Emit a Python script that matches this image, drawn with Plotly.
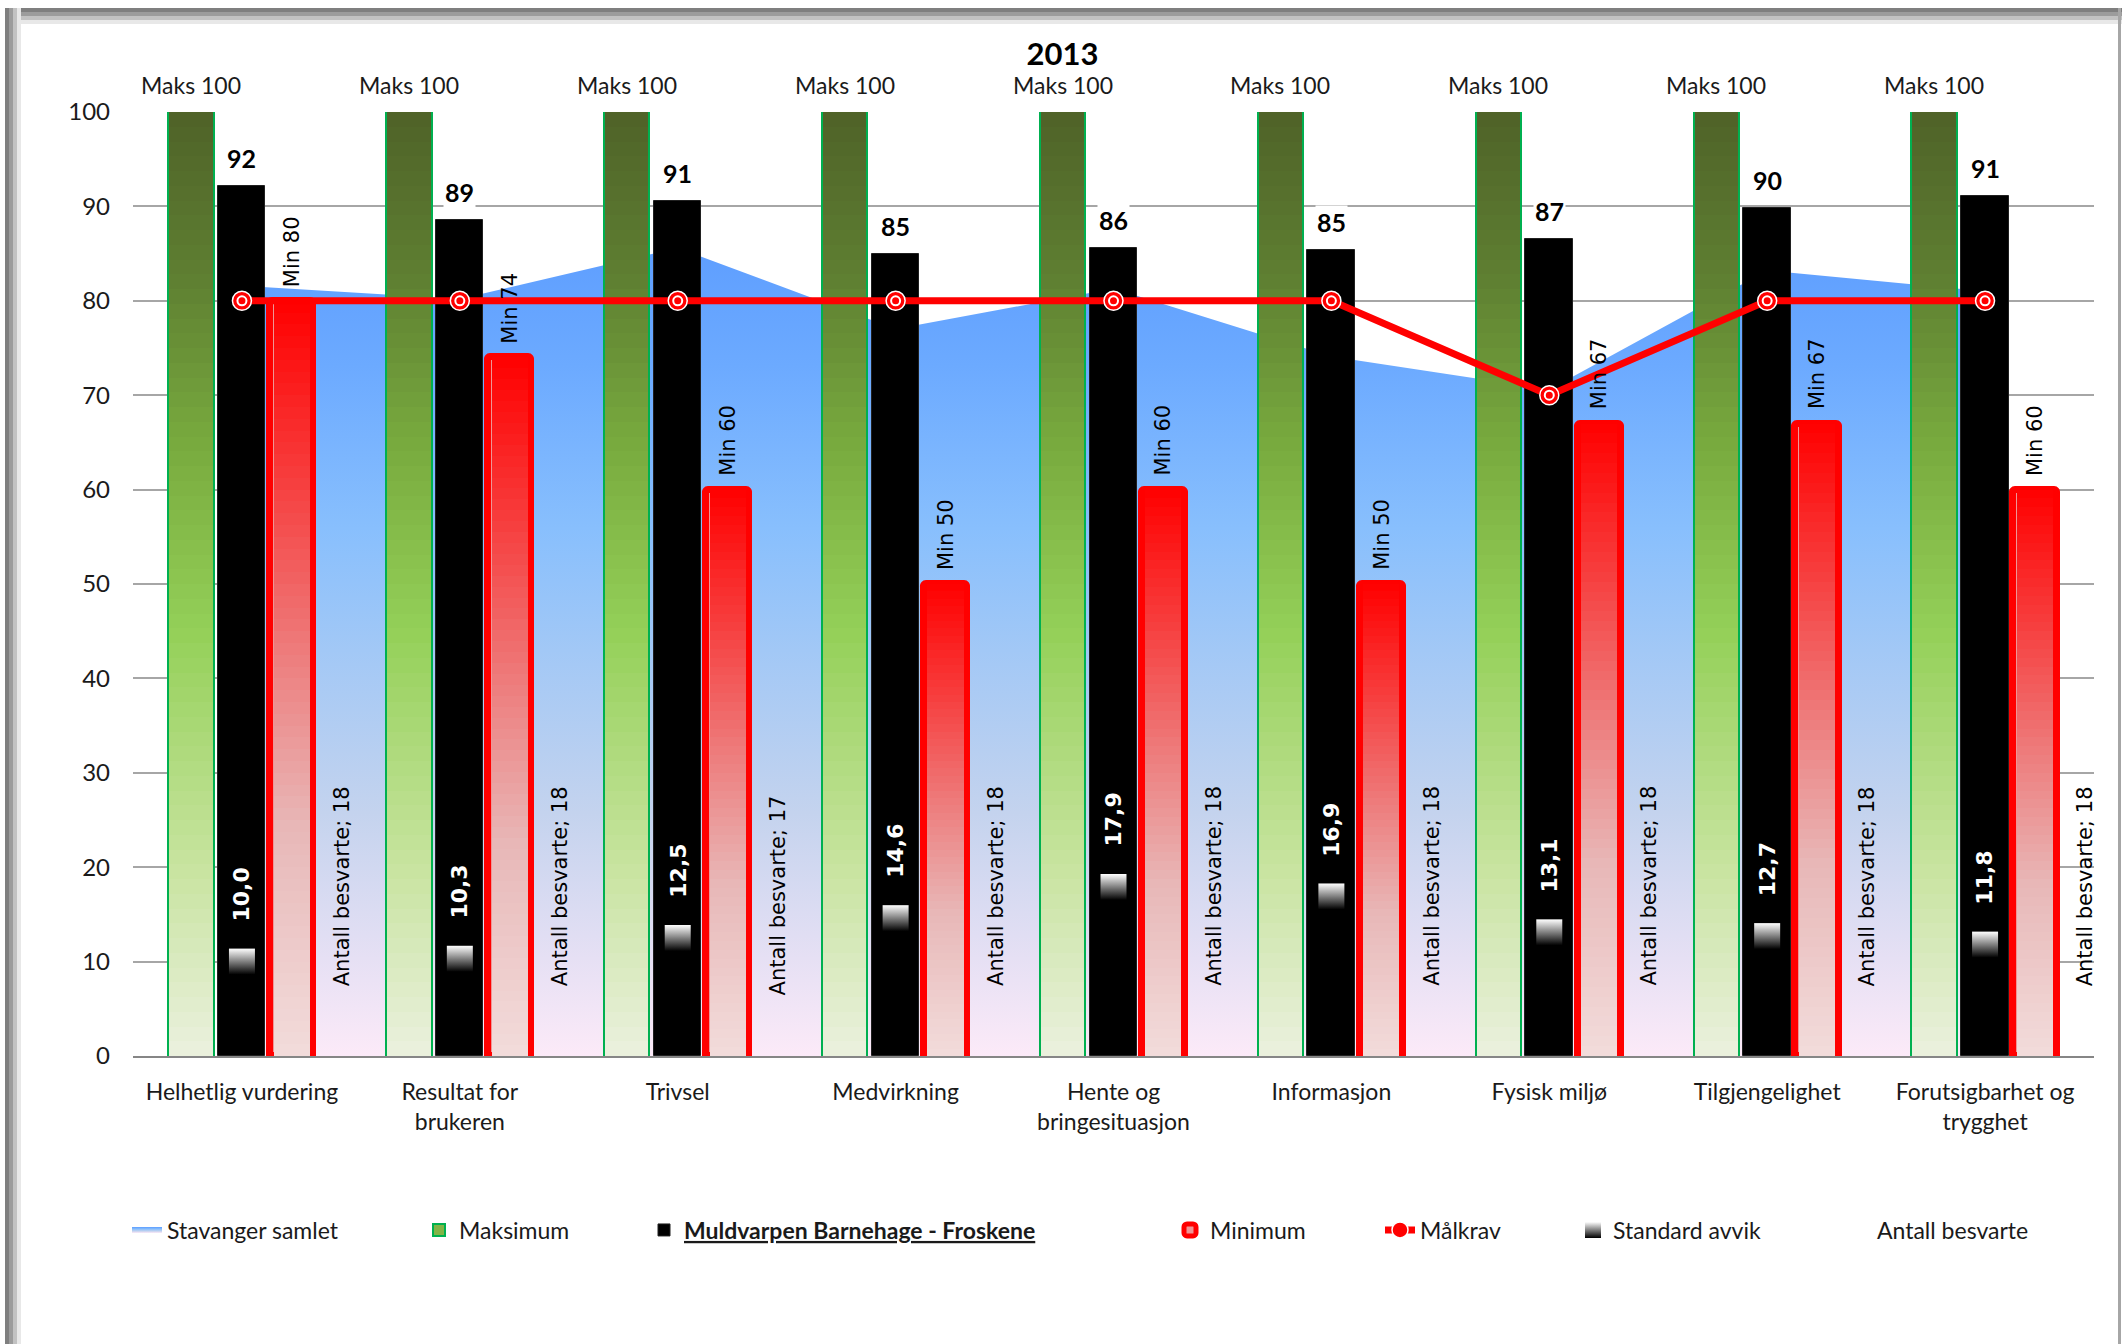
import plotly.graph_objects as go

# ---------------- data ----------------
categories = ["Helhetlig vurdering", "Resultat for brukeren", "Trivsel", "Medvirkning",
              "Hente og bringesituasjon", "Informasjon", "Fysisk miljø", "Tilgjengelighet",
              "Forutsigbarhet og trygghet"]
tick_labels = ["Helhetlig vurdering", "Resultat for<br>brukeren", "Trivsel", "Medvirkning",
               "Hente og<br>bringesituasjon", "Informasjon", "Fysisk miljø", "Tilgjengelighet",
               "Forutsigbarhet og<br>trygghet"]
stavanger_samlet = [81.6, 80.2, 85.6, 77.0, 81.3, 74.1, 70.6, 83.2, 81.0]
maksimum = [100, 100, 100, 100, 100, 100, 100, 100, 100]
muldvarpen = [92.2, 88.6, 90.6, 85.0, 85.6, 85.4, 86.6, 89.8, 91.1]
minimum = [80, 74, 60, 50, 60, 50, 67, 67, 60]
malkrav = [80, 80, 80, 80, 80, 80, 70, 80, 80]
standard_avvik = [10.0, 10.3, 12.5, 14.6, 17.9, 16.9, 13.1, 12.7, 11.8]
antall_besvarte = [18, 18, 17, 18, 18, 18, 18, 18, 18]
title_text = "2013"
y_ticks = [0, 10, 20, 30, 40, 50, 60, 70, 80, 90, 100]

# ---------------- geometry / style ----------------
W, H = 2125, 1344
ML, MR, MT, MB = 133, 31, 112, 288
PW, PH = W - ML - MR, H - MT - MB
CAT_PX = PW / len(categories)

GREEN_OFF, GREEN_W = -0.338, 0.208
BLACK_OFF, BLACK_W = -0.110, 0.218
RED_OFF, RED_W = 0.130, 0.198
ANT_OFF, ANT_W = 0.35, 0.22
GREEN_C = GREEN_OFF + GREEN_W / 2
RED_C = RED_OFF + RED_W / 2
ANT_C = 0.46

CAL = "Lato"
VER = "DejaVu Sans"

green_scale = [(0.0, (235, 241, 222)), (0.2, (200, 228, 160)), (0.45, (148, 208, 88)),
               (0.65, (120, 170, 62)), (0.82, (95, 128, 50)), (1.0, (79, 98, 40))]
red_scale = [(0.0, (242, 220, 219)), (0.3, (232, 184, 184)), (0.55, (238, 120, 120)),
             (0.8, (248, 52, 52)), (1.0, (255, 0, 0))]
blue_scale = [[0.0, "#FCEAF8"], [0.12, "#E6E0F4"], [0.3, "#C4D3EE"], [0.5, "#A2C8F6"],
              [0.65, "#88BFFD"], [0.85, "#6CAAFF"], [1.0, "#5E9EFF"]]


def interp(scale, t):
    for (p0, c0), (p1, c1) in zip(scale[:-1], scale[1:]):
        if p0 <= t <= p1:
            u = (t - p0) / (p1 - p0) if p1 > p0 else 0
            return "rgb(%d,%d,%d)" % tuple(round(a + (b - a) * u) for a, b in zip(c0, c1))
    c = scale[-1][1] if t > 1 else scale[0][1]
    return "rgb(%d,%d,%d)" % c


def px_x(px):
    return (px - ML) / PW


def px_y(py):
    return 1 - (py - MT) / PH


fig = go.Figure()

# Stavanger samlet (area with vertical gradient) on the base axes -> drawn beneath the bars
fig.add_trace(go.Scatter(
    x=categories, y=stavanger_samlet, name="Stavanger samlet", mode="none",
    fill="tozeroy", fillcolor="#8CC0FC",
    fillgradient=dict(type="vertical", colorscale=blue_scale, start=0, stop=86),
    legend="legend", hoverinfo="skip", xaxis="x", yaxis="y"))

N = 64


def gradient_bars(values, off, width, scale, border_px, name, legend, border_color, mid_color, corner=0):
    inset = (border_px / 2) / CAT_PX
    fig.add_trace(go.Bar(x=categories, y=values, name=name, offset=off, width=width,
                         marker=dict(color=mid_color, line=dict(color=border_color, width=border_px),
                                     cornerradius=corner),
                         legend=legend, hoverinfo="skip", xaxis="x2", yaxis="y2"))
    for k in range(N):
        f = 1 - k / N
        col = interp(scale, f - 0.5 / N)
        fig.add_trace(go.Bar(x=categories, y=[v * f for v in values], offset=off + inset,
                             width=width - 2 * inset, marker=dict(color=col, line=dict(width=0)),
                             showlegend=False, hoverinfo="skip", xaxis="x2", yaxis="y2"))


gradient_bars(maksimum, GREEN_OFF, GREEN_W, green_scale, 2, "Maksimum", "legend2", "#00B050",
              "rgb(130,180,70)")

fig.add_trace(go.Bar(x=categories, y=muldvarpen,
                     name="<b><u>Muldvarpen Barnehage - Froskene</u></b>",
                     offset=BLACK_OFF, width=BLACK_W,
                     marker=dict(color="black", line=dict(color="#202020", width=1)),
                     legend="legend3", hoverinfo="skip", xaxis="x2", yaxis="y2"))

gradient_bars(minimum, RED_OFF, RED_W, red_scale, 7, "Minimum", "legend4", "#FF0000",
              "rgb(238,150,150)", corner=3)

fig.add_trace(go.Bar(x=categories, y=antall_besvarte, name="Antall besvarte", offset=ANT_OFF,
                     width=ANT_W, marker=dict(color="rgba(0,0,0,0)", line=dict(width=0)),
                     legend="legend7", hoverinfo="skip", xaxis="x2", yaxis="y2"))

# Målkrav line with ring markers
fig.add_trace(go.Scatter(x=categories, y=malkrav, name="Målkrav", mode="lines+markers",
                         line=dict(color="#FF0000", width=7),
                         marker=dict(symbol="circle", size=19, color="#FF0000",
                                     line=dict(color="white", width=1.5)),
                         legend="legend5", hoverinfo="skip", xaxis="x2", yaxis="y2"))
fig.add_trace(go.Scatter(x=categories, y=malkrav, mode="markers", showlegend=False,
                         marker=dict(symbol="circle", size=9, color="#FF0000",
                                     line=dict(color="white", width=2)),
                         hoverinfo="skip", xaxis="x2", yaxis="y2"))

# Standard avvik markers
fig.add_trace(go.Scatter(x=categories, y=standard_avvik, name="Standard avvik", mode="markers",
                         marker=dict(symbol="square", size=26, color="white",
                                     gradient=dict(type="vertical", color="black"),
                                     line=dict(width=0)),
                         legend="legend6", hoverinfo="skip", xaxis="x2", yaxis="y2"))

# ---------------- annotations ----------------
ann = []
for i, v in enumerate(maksimum):
    ann.append(dict(x=i + GREEN_C, y=v, xref="x", yref="y", text=f"Maks {v}", showarrow=False,
                    yanchor="middle", yshift=27, font=dict(family=CAL, size=23, color="#1a1a1a")))
for i, v in enumerate(muldvarpen):
    ann.append(dict(x=i, y=v, xref="x", yref="y", text=f"<b>{round(v)}</b>", showarrow=False,
                    yanchor="middle", yshift=28, bgcolor="white", borderpad=1,
                    font=dict(family=CAL, size=25, color="black")))
for i, v in enumerate(minimum):
    ann.append(dict(x=i + RED_C, y=v, xref="x", yref="y", text=f"Min {v}", showarrow=False,
                    textangle=-90, yanchor="bottom", yshift=12,
                    font=dict(family=VER, size=21, color="black")))
for i, v in enumerate(standard_avvik):
    ann.append(dict(x=i, y=v, xref="x", yref="y", text=f"<b>{v:.1f}</b>".replace(".", ","),
                    showarrow=False, textangle=-90, yanchor="bottom", yshift=38,
                    font=dict(family=VER, size=22, color="white")))
for i, v in enumerate(antall_besvarte):
    ann.append(dict(x=i + ANT_C, y=v, xref="x", yref="y", text=f"Antall besvarte; {v}",
                    showarrow=False, textangle=-90, yanchor="middle",
                    font=dict(family=VER, size=21, color="black")))

# ---------------- frame shapes (chart border shadow) ----------------
shapes = []
top_band = [(8, 12, "#7F7F7F"), (12, 16, "#9C9C9C"), (16, 20, "#C2C2C2"), (20, 24, "#E8E8E8")]
for a, b, c in top_band:
    shapes.append(dict(type="rect", xref="paper", yref="paper", x0=px_x(5), x1=px_x(2122),
                       y0=px_y(b), y1=px_y(a), fillcolor=c, line=dict(width=0), layer="above"))
left_band = [(5, 9, "#7F7F7F"), (9, 13, "#9C9C9C"), (13, 17, "#C2C2C2"), (17, 21, "#E8E8E8")]
for a, b, c in left_band:
    shapes.append(dict(type="rect", xref="paper", yref="paper", x0=px_x(a), x1=px_x(b),
                       y0=px_y(H), y1=px_y(8), fillcolor=c, line=dict(width=0), layer="above"))
shapes.append(dict(type="rect", xref="paper", yref="paper", x0=px_x(2118), x1=px_x(2121),
                   y0=px_y(H), y1=px_y(8), fillcolor="#A6A6A6", line=dict(width=0), layer="above"))

# ---------------- legends ----------------
LEG_Y = px_y(1230)


def leg(text_px):
    return dict(x=px_x(text_px - 40), xanchor="left", y=LEG_Y, yanchor="middle",
                orientation="h", bgcolor="rgba(0,0,0,0)", borderwidth=0,
                font=dict(family=CAL, size=23, color="#1a1a1a"), itemwidth=30,
                itemclick=False, itemdoubleclick=False)


xcommon = dict(type="category", range=[-0.5, len(categories) - 0.5], fixedrange=True)

fig.update_layout(
    width=W, height=H, margin=dict(l=ML, r=MR, t=MT, b=MB, pad=0),
    paper_bgcolor="white", plot_bgcolor="white",
    barmode="overlay", bargap=0, hovermode=False,
    title=dict(text=f"<b>{title_text}</b>", x=0.5, xref="container", xanchor="center",
               y=1 - 54 / H, yref="container", yanchor="middle",
               font=dict(family=CAL, size=31, color="black")),
    xaxis=dict(**xcommon, tickvals=categories, ticktext=tick_labels, showgrid=False,
               showline=True, linecolor="#868686", linewidth=2, ticks="",
               ticklabelstandoff=14, tickfont=dict(family=CAL, size=23, color="#1a1a1a"),
               zeroline=False),
    xaxis2=dict(**xcommon, overlaying="x", visible=False, showgrid=False),
    yaxis=dict(range=[0, 100], tickvals=y_ticks, showgrid=True, gridcolor="#A6A6A6",
               gridwidth=1.5, zeroline=False, showline=False, ticks="",
               ticklabelstandoff=22, tickfont=dict(family=CAL, size=24, color="#1a1a1a"),
               fixedrange=True),
    yaxis2=dict(range=[0, 100], overlaying="y", visible=False, showgrid=False,
                zeroline=False, fixedrange=True),
    legend=leg(167), legend2=leg(459), legend3=leg(684), legend4=leg(1210),
    legend5=leg(1420), legend6=leg(1613), legend7=leg(1877),
    annotations=ann, shapes=shapes, showlegend=True,
)

fig.write_html("out.html", config={"displayModeBar": False},
               post_script="document.body.style.margin='0';")
